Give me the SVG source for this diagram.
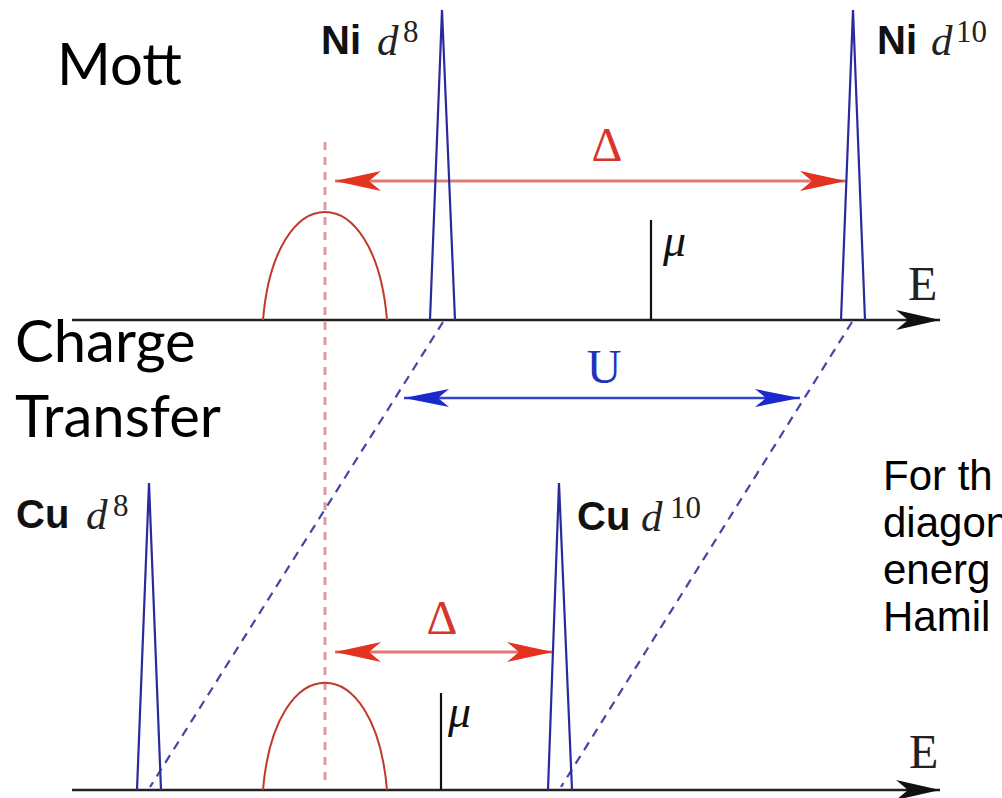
<svg xmlns="http://www.w3.org/2000/svg" width="1002" height="798" viewBox="0 0 1002 798">
<defs>
<style>
.title{font-family:Lato,"Liberation Sans",sans-serif;font-size:58px;fill:#000}
.side{font-family:"Liberation Sans",Arial,sans-serif;font-size:42px;fill:#000}
.el{font-family:"Liberation Sans",Arial,sans-serif;font-weight:bold;font-size:40px;fill:#111}
.dd{font-family:"Liberation Serif","Times New Roman",serif;font-style:italic;font-size:43px;fill:#222}
.sup{font-family:"Liberation Serif","Times New Roman",serif;font-size:31px;fill:#222}
.sym{font-family:"Liberation Serif","Times New Roman",serif;font-size:48px}
.mu{font-family:"Liberation Serif","Times New Roman",serif;font-style:italic;font-size:46px;fill:#111}
.peak{fill:none;stroke:#2a2a9c;stroke-width:2.2;stroke-linejoin:miter}
.band{fill:none;stroke:#c0392b;stroke-width:2}
.axis{stroke:#222;stroke-width:2.5;fill:none}
.mline{stroke:#111;stroke-width:2.2}
.vdash{stroke:#e09a9a;stroke-width:3;stroke-dasharray:8 7;fill:none}
.bdash{stroke:#4545a5;stroke-width:2.2;stroke-dasharray:9 7;fill:none}
.red{stroke:#e07a74;stroke-width:3;fill:none}
.blue{stroke:#3344cc;stroke-width:2.5;fill:none}
</style>
<marker id="ahRed" markerUnits="userSpaceOnUse" viewBox="-48 -12 50 24" refX="0" refY="0" markerWidth="50" markerHeight="24" orient="auto-start-reverse">
<path d="M0,0 L-46,-10 L-34,0 L-46,10 Z" fill="#e3321f"/>
</marker>
<marker id="ahBlue" markerUnits="userSpaceOnUse" viewBox="-48 -12 50 24" refX="0" refY="0" markerWidth="50" markerHeight="24" orient="auto-start-reverse">
<path d="M0,0 L-45,-9 L-34,0 L-45,9 Z" fill="#1a28cc"/>
</marker>
<marker id="ahBlack" markerUnits="userSpaceOnUse" viewBox="-48 -12 50 24" refX="0" refY="0" markerWidth="50" markerHeight="24" orient="auto">
<path d="M0,0 L-44,-10 L-32,0 L-44,10 Z" fill="#111"/>
</marker>
</defs>
<rect width="1002" height="798" fill="#fff"/>

<g id="titles">
<text class="title" x="57" y="85">Mott</text>
<text class="title" x="15" y="362">Charge</text>
<text class="title" x="15" y="437">Transfer</text>
</g>

<g id="side-note">
<text class="side" x="883" y="490">For th</text>
<text class="side" x="883" y="537">diagon</text>
<text class="side" x="883" y="584">energ</text>
<text class="side" x="883" y="631">Hamil</text>
</g>

<g id="connectors">
<line class="vdash" x1="325" y1="142" x2="325" y2="780"/>
<line class="bdash" x1="443" y1="322" x2="150" y2="787"/>
<line class="bdash" x1="852" y1="322" x2="561" y2="787"/>
<line class="red" x1="335" y1="181" x2="846" y2="181" marker-start="url(#ahRed)" marker-end="url(#ahRed)"/>
<line class="red" x1="335" y1="652" x2="553" y2="652" marker-start="url(#ahRed)" marker-end="url(#ahRed)"/>
<line class="blue" x1="404" y1="398" x2="800" y2="398" marker-start="url(#ahBlue)" marker-end="url(#ahBlue)"/>
</g>

<g id="axis-top">
<line class="axis" x1="72" y1="320" x2="940" y2="320" marker-end="url(#ahBlack)"/>
<text class="sym" x="908" y="300" fill="#222">E</text>
</g>
<g id="axis-bottom">
<line class="axis" x1="72" y1="790" x2="940" y2="790" marker-end="url(#ahBlack)"/>
<text class="sym" x="909" y="768" fill="#222">E</text>
</g>

<g id="band-top">
<path class="band" d="M263,320 C275,176 375,176 387,320"/>
</g>
<g id="band-bottom">
<path class="band" d="M263,790 C275,647 375,647 387,790"/>
</g>

<g id="ni-d8">
<polyline class="peak" points="430,320 442,10 455,320"/>
<text class="el" x="321" y="54">Ni</text>
<text class="dd" x="377" y="55">d</text>
<text class="sup" x="403" y="42">8</text>
</g>
<g id="ni-d10">
<polyline class="peak" points="841,320 853,10 865,320"/>
<text class="el" x="877" y="54">Ni</text>
<text class="dd" x="931" y="55">d</text>
<text class="sup" x="956" y="42">10</text>
</g>
<g id="cu-d8">
<polyline class="peak" points="137,790 149,483 161,790"/>
<text class="el" x="16" y="528">Cu</text>
<text class="dd" x="86" y="529">d</text>
<text class="sup" x="113" y="516">8</text>
</g>
<g id="cu-d10">
<polyline class="peak" points="548,790 559,483 572,790"/>
<text class="el" x="577" y="530">Cu</text>
<text class="dd" x="641" y="531">d</text>
<text class="sup" x="670" y="518">10</text>
</g>

<g id="mu-top">
<line class="mline" x1="651" y1="220" x2="651" y2="320"/>
<text class="mu" x="663" y="256">μ</text>
</g>
<g id="mu-bottom">
<line class="mline" x1="441" y1="693" x2="441" y2="790"/>
<text class="mu" x="448" y="727">μ</text>
</g>

<g id="labels">
<text class="sym" x="607" y="161" fill="#d8342a" text-anchor="middle">Δ</text>
<text class="sym" x="442" y="634" fill="#d8342a" text-anchor="middle">Δ</text>
<text class="sym" x="604" y="383" fill="#2233bb" text-anchor="middle">U</text>
</g>
</svg>
